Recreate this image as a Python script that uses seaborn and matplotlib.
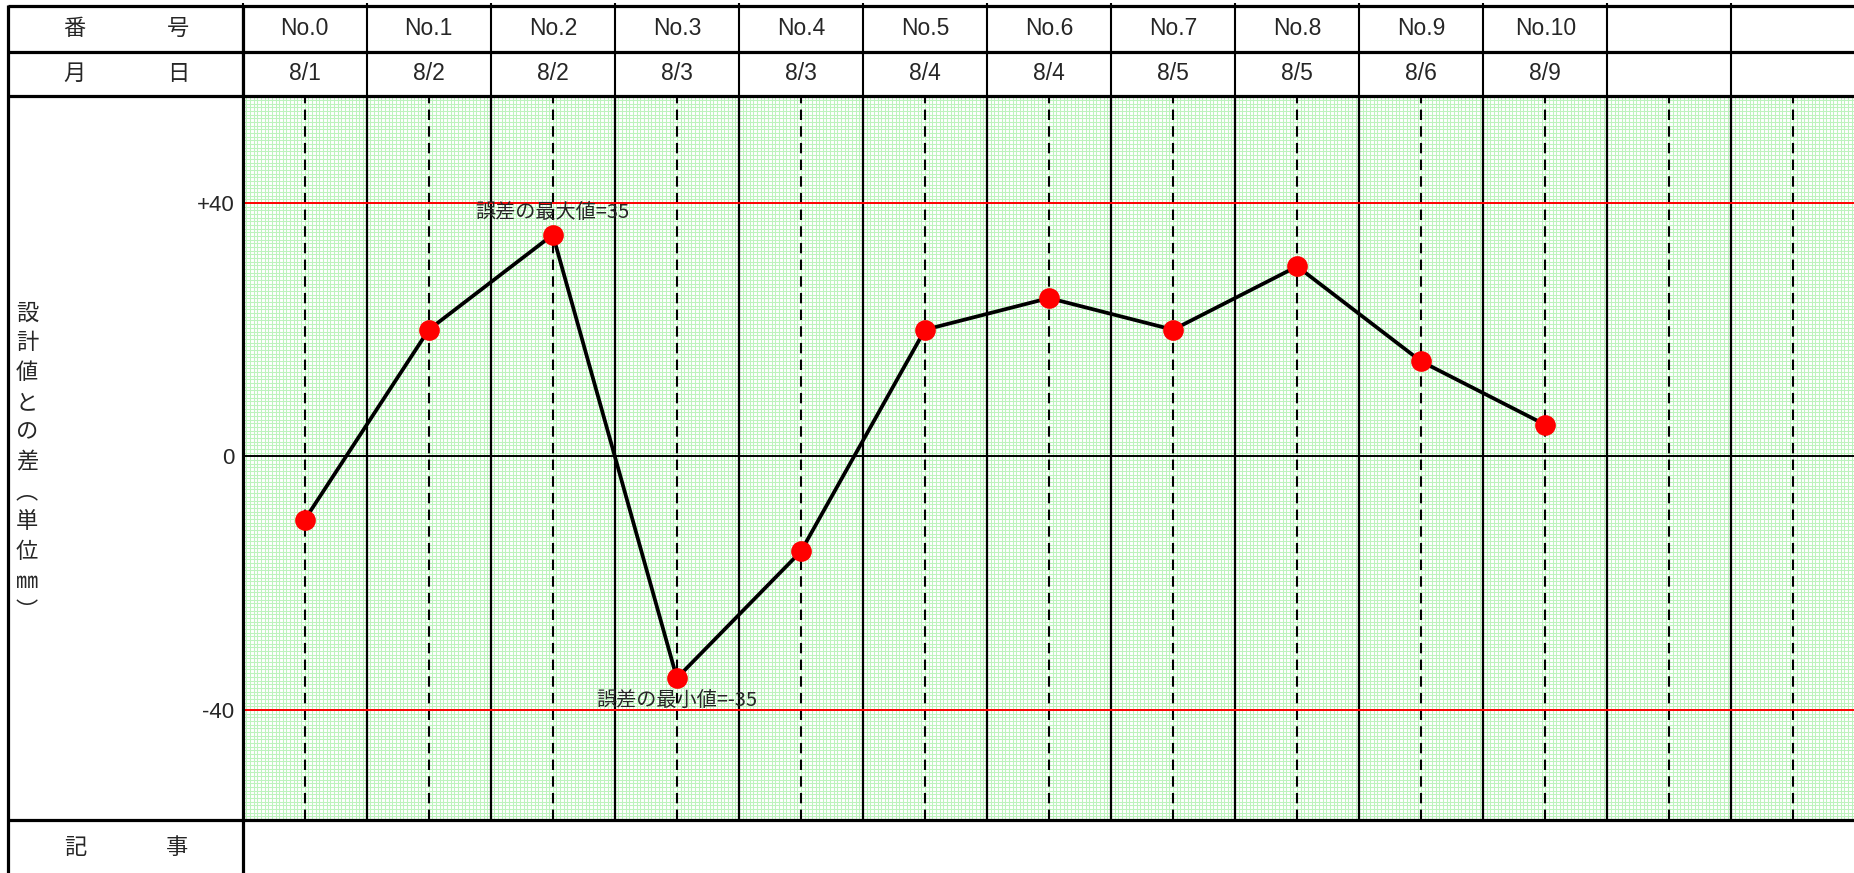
import numpy as np
import matplotlib
matplotlib.use('Agg')
import matplotlib.pyplot as plt
import seaborn as sns
from matplotlib.ticker import MultipleLocator
from matplotlib.transforms import blended_transform_factory

# data
numbers = ['No.0', 'No.1', 'No.2', 'No.3', 'No.4', 'No.5', 'No.6', 'No.7', 'No.8', 'No.9', 'No.10', '', '']
dates = ['8/1', '8/2', '8/2', '8/3', '8/3', '8/4', '8/4', '8/5', '8/5', '8/6', '8/9', '', '']
diffs = [-10, 20, 35, -35, -15, 20, 25, 20, 30, 15, 5]
yticks = [-40, 0, 40]
ytick_labels = ['-40', '0', '+40']
ylabel = '設計値との差︵単位㎜︶'

sns.set_style('white')
plt.rcParams['font.family'] = ['Liberation Sans', 'Noto Sans CJK JP', 'DejaVu Sans']
cjk = ['Noto Sans CJK JP', 'DejaVu Sans']

W, H = 1854, 873
fig = plt.figure(figsize=(W / 100, H / 100), dpi=100)

# layout in pixels
left_x = 242.7
col_w = 124.05
top_y, row_y, head_y, plot_bot = 6, 51.7, 96, 820
ncol = len(numbers)

ax = fig.add_axes([left_x / W, (H - plot_bot) / H, (W - left_x) / W, (plot_bot - head_y) / H])
ax.set_xlim(-0.5, -0.5 + (W - left_x) / col_w)
ax.set_ylim(-57.4, 56.9)

# fine green grid
ax.xaxis.set_minor_locator(MultipleLocator(1 / 34))
ax.yaxis.set_minor_locator(MultipleLocator(0.58))
ax.grid(which='minor', color='#bdf3bd', lw=0.75)
ax.grid(which='major', visible=False)
ax.set_axisbelow(True)
ax.tick_params(which='both', length=0)
ax.tick_params(axis='y', pad=6, labelsize=16)
ax.set_xticks([])
ax.set_yticks(yticks)
ax.set_yticklabels(ytick_labels)
for s in ax.spines.values():
    s.set_visible(False)

# column lines
for i in range(ncol + 1):
    ax.axvline(i - 0.5, color='black', lw=1.6, zorder=2)
for i in range(ncol):
    ax.axvline(i, color='black', lw=1.5, ls=(0, (5, 3)), zorder=2)

ax.axhline(0, color='black', lw=1.4, zorder=2)
for v in (40, -40):
    ax.axhline(v, color='red', lw=1.4, zorder=2)

x = np.arange(len(diffs))
sns.lineplot(x=x, y=diffs, color='black', lw=2.7, ax=ax, zorder=4)
sns.scatterplot(x=x, y=diffs, color='red', s=190, edgecolor='red', ax=ax, zorder=5)

imax, imin = int(np.argmax(diffs)), int(np.argmin(diffs))
ax.annotate(f'誤差の最大値={diffs[imax]}', (imax, diffs[imax]), xytext=(0, 16),
            textcoords='offset points', ha='center', va='center', fontsize=14.5,
            family=cjk, zorder=6)
ax.annotate(f'誤差の最小値={diffs[imin]}', (imin, diffs[imin]), xytext=(0, -16),
            textcoords='offset points', ha='center', va='center', fontsize=14.5,
            family=cjk, zorder=6)

# header rows above the axes
trans = blended_transform_factory(ax.transData, ax.transAxes)
ah = plot_bot - head_y
r1 = (plot_bot - (top_y + row_y) / 2) / ah
r2 = (plot_bot - (row_y + head_y) / 2) / ah
for i in range(ncol):
    ax.text(i, r1, numbers[i], transform=trans, ha='center', va='center', fontsize=16.5)
    ax.text(i, r2, dates[i], transform=trans, ha='center', va='center', fontsize=16.5)
ax.vlines(np.arange(ncol + 1) - 0.5, 1.0, (plot_bot - 3) / ah, transform=trans,
          color='black', lw=1.5, clip_on=False)

# table frame
ov = fig.add_axes([0, 0, 1, 1], zorder=5)
ov.set_xlim(0, W)
ov.set_ylim(H, 0)
ov.axis('off')
for yy in (top_y, row_y, head_y, plot_bot):
    ov.plot([8, W], [yy, yy], color='black', lw=2.3, solid_capstyle='butt')
for xx in (8, left_x):
    ov.plot([xx, xx], [top_y - 1, H], color='black', lw=2.3, solid_capstyle='butt')

for txt, xx, yy in [('番', 74, (top_y + row_y) / 2), ('号', 178, (top_y + row_y) / 2),
                    ('月', 74, (row_y + head_y) / 2), ('日', 178, (row_y + head_y) / 2),
                    ('記', 75, 848), ('事', 177, 848)]:
    ov.text(xx, yy, txt, ha='center', va='center', fontsize=16, family=cjk)
ov.text(27, 462, '\n'.join(ylabel), ha='center', va='center', fontsize=16,
        family=cjk, linespacing=1.38)

fig.savefig('out.png', dpi=100)
